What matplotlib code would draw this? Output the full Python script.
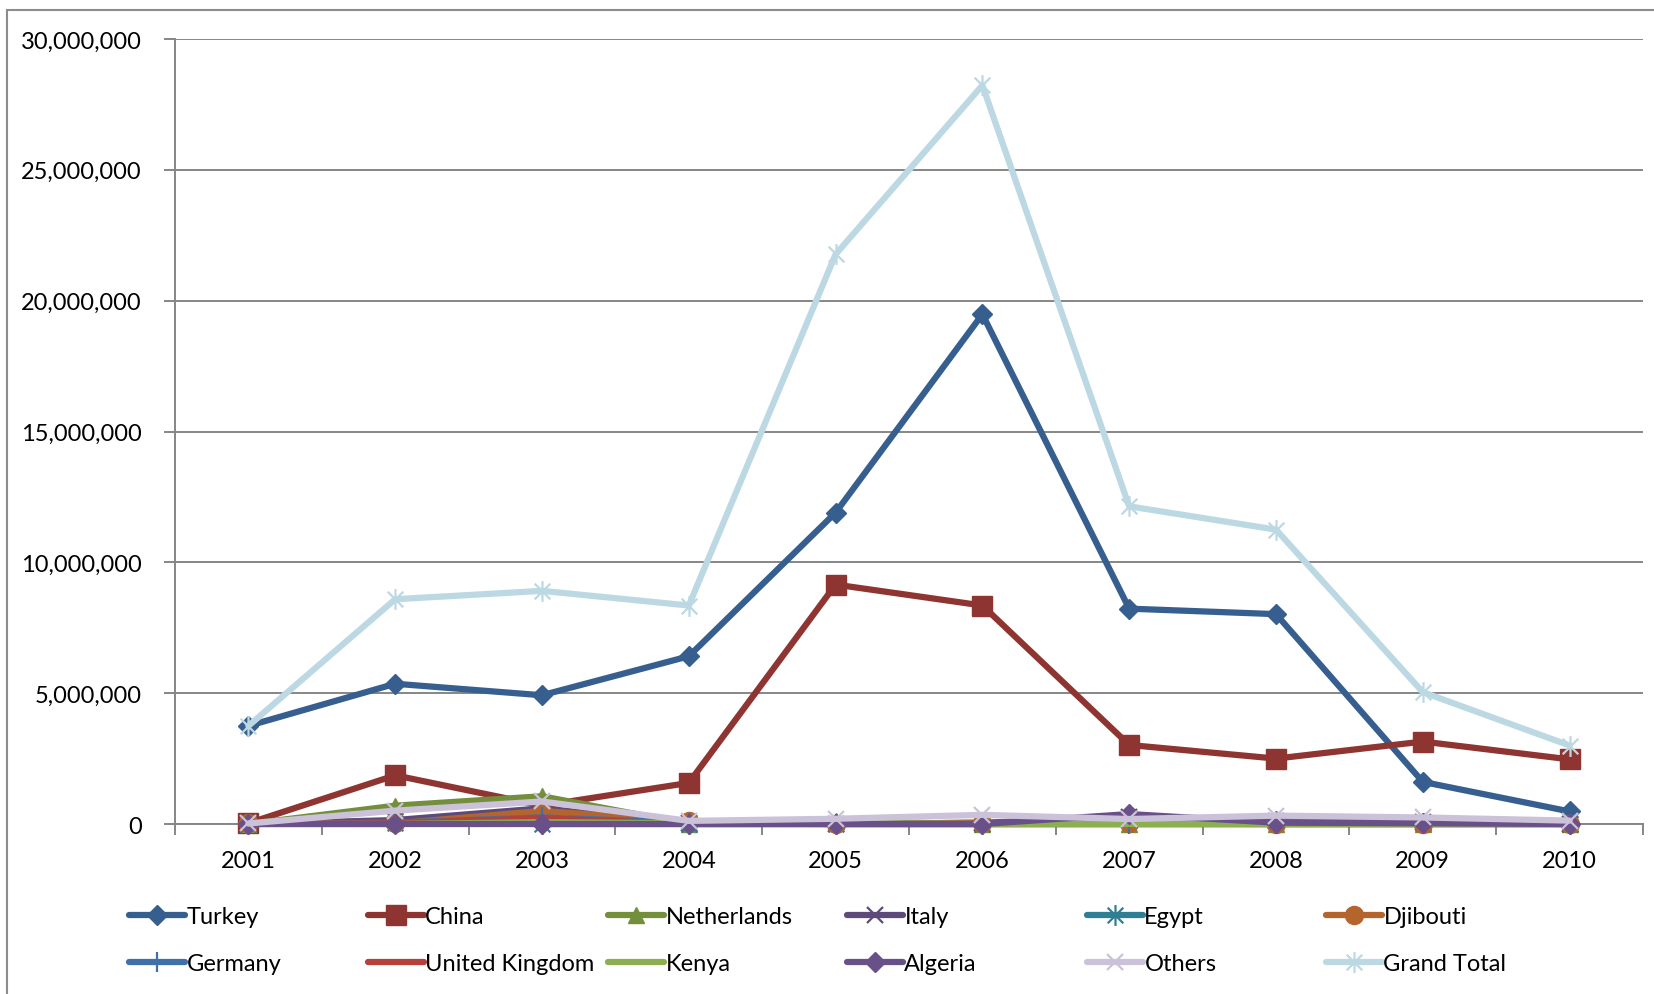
import matplotlib
matplotlib.use("Agg")
import matplotlib.pyplot as plt
from matplotlib.path import Path
from matplotlib.patches import Rectangle
from matplotlib.ticker import FuncFormatter, MultipleLocator
import numpy as np

plt.rcParams['font.family'] = ['Lato', 'DejaVu Sans']

years = ['2001', '2002', '2003', '2004', '2005', '2006', '2007', '2008', '2009', '2010']

# values in millions
turkey      = [3.75, 5.36, 4.92, 6.41, 11.90, 19.48, 8.23, 8.02, 1.61, 0.48]
china       = [0.03, 1.86, 0.70, 1.57, 9.15, 8.35, 3.02, 2.50, 3.15, 2.47]
netherlands = [0.00, 0.70, 1.06, 0.00, 0.10, 0.00, 0.00, 0.00, 0.00, 0.00]
italy       = [0.00, 0.15, 0.60, 0.02, 0.00, 0.05, 0.25, 0.10, 0.08, 0.00]
egypt       = [0.00, 0.05, 0.00, 0.00, 0.00, 0.00, 0.15, 0.12, 0.05, 0.00]
djibouti    = [0.02, 0.02, 0.50, 0.10, 0.00, 0.05, 0.02, 0.00, 0.00, 0.00]
germany     = [0.00, 0.05, 0.25, 0.05, 0.00, 0.00, 0.00, 0.00, 0.00, 0.00]
united_kingdom = [0.00, 0.03, 0.22, 0.00, 0.00, 0.00, 0.00, 0.00, 0.00, 0.00]
kenya       = [0.00, 0.00, 0.07, 0.03, 0.05, 0.00, 0.00, 0.00, 0.00, 0.00]
algeria     = [0.00, 0.00, 0.00, 0.00, 0.00, 0.00, 0.38, 0.05, 0.03, 0.00]
others      = [0.02, 0.51, 0.86, 0.12, 0.20, 0.35, 0.19, 0.32, 0.25, 0.13]
grand_total = [3.75, 8.59, 8.91, 8.35, 21.77, 28.23, 12.14, 11.25, 5.04, 3.00]

names = ['Turkey', 'China', 'Netherlands', 'Italy', 'Egypt', 'Djibouti',
         'Germany', 'United Kingdom', 'Kenya', 'Algeria', 'Others', 'Grand Total']
series = [turkey, china, netherlands, italy, egypt, djibouti,
          germany, united_kingdom, kenya, algeria, others, grand_total]
colors = ['#365F8F', '#8E3532', '#738F3B', '#5E4A7A', '#2F7F94', '#B4652D',
          '#3F70AA', '#B5403C', '#8CAF50', '#6A5089', '#CBC2D9', '#BCD9E3']

# asterisk marker: vertical bar plus two diagonals
asterisk = Path([(0, -1), (0, 1), (-0.75, -0.75), (0.75, 0.75), (-0.75, 0.75), (0.75, -0.75)],
                [Path.MOVETO, Path.LINETO, Path.MOVETO, Path.LINETO, Path.MOVETO, Path.LINETO])

styles = [
    dict(marker='D', ms=10, mew=1.0),
    dict(marker='s', ms=14, mew=1.0),
    dict(marker='^', ms=12, mew=1.0),
    dict(marker='x', ms=12, mew=1.6),
    dict(marker=asterisk, ms=15, mew=1.6),
    dict(marker='o', ms=13, mew=1.0),
    dict(marker='+', ms=15, mew=1.6),
    dict(marker='None'),
    dict(marker='None'),
    dict(marker='D', ms=10, mew=1.0),
    dict(marker='x', ms=12, mew=1.6),
    dict(marker=asterisk, ms=15, mew=1.6),
]

W, H = 1654, 995
fig = plt.figure(figsize=(W / 100, H / 100), dpi=100)
ax = fig.add_axes([175 / W, 1 - 825 / H, (1643 - 175) / W, (825 - 40) / H])

x = np.arange(len(years))
handles = []
for i, (vals, col, st) in enumerate(zip(series, colors, styles)):
    y = np.array(vals) * 1e6
    h, = ax.plot(x, y, color=col, lw=4.5, mfc=col, mec=col,
                 solid_capstyle='round', solid_joinstyle='round',
                 zorder=3 + i * 0.1, clip_on=False, **st)
    handles.append(h)

grid_col = '#868686'
ax.set_xlim(-0.5, len(years) - 0.5)
ax.set_ylim(0, 30e6)
ax.yaxis.set_major_locator(MultipleLocator(5e6))
ax.yaxis.set_major_formatter(FuncFormatter(lambda v, p: f'{v:,.0f}'))
ax.grid(axis='y', color=grid_col, lw=1.4, zorder=0)
ax.set_axisbelow(True)
ax.set_xticks(x)
ax.set_xticklabels(years)
ax.set_xticks(np.arange(-0.5, len(years)), minor=True)
ax.tick_params(axis='x', which='major', length=0, pad=19, labelsize=17, labelcolor='black')
ax.tick_params(axis='x', which='minor', length=8, width=1.4, color=grid_col, direction='out')
ax.tick_params(axis='y', which='major', length=8, width=1.4, color=grid_col, pad=16,
               labelsize=17, labelcolor='black')
for side in ['top', 'right']:
    ax.spines[side].set_visible(False)
for side in ['left', 'bottom']:
    ax.spines[side].set_color(grid_col)
    ax.spines[side].set_linewidth(1.4)

# legend: one entry per slot, laid out in a 6x2 grid
col_x = [129, 368, 608, 847, 1087, 1326]
row_y = [918, 965]
for i, (h, name) in enumerate(zip(handles, names)):
    r, c = divmod(i, 6)
    fig.legend(handles=[h], labels=[name], loc='center left',
               bbox_to_anchor=(col_x[c] / W, 1 - row_y[r] / H),
               bbox_transform=fig.transFigure, frameon=False,
               borderpad=0, borderaxespad=0, handlelength=2.37,
               handletextpad=0.06, fontsize=17)

# chart area border
fig.patches.append(Rectangle((7 / W, -0.1), 1.2, 1.1 - 11 / H, transform=fig.transFigure,
                             fill=False, edgecolor='#8C8C8C', lw=1.5, zorder=0))

fig.savefig('out.png', dpi=100)
